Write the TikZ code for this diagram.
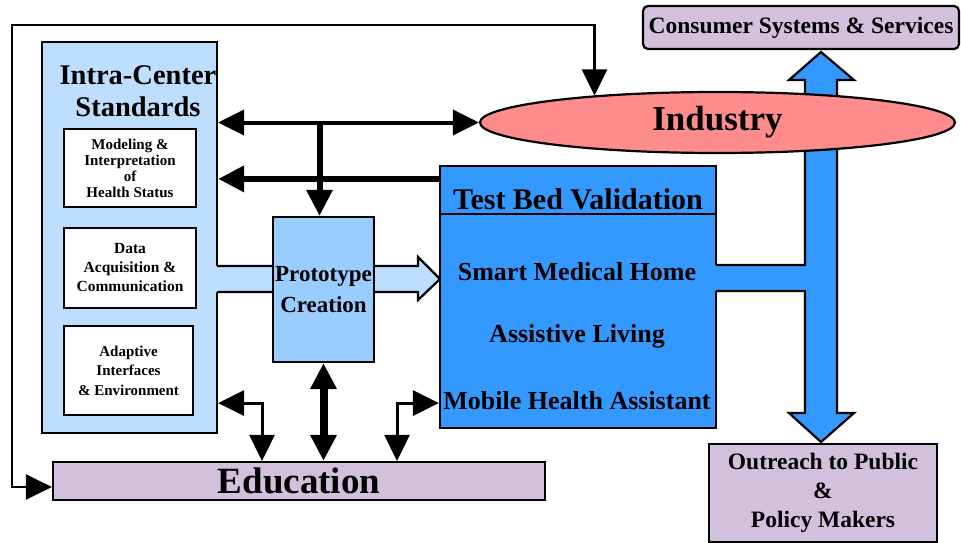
\documentclass[tikz,border=0pt]{standalone}
\usepackage{fontspec}
\setmainfont{Liberation Serif}
\usepackage{xcolor}
\usepackage{tikz}
\usetikzlibrary{shapes.geometric, arrows.meta, positioning}
\definecolor{stdblue}{RGB}{190, 222, 255}
\definecolor{protoblue}{RGB}{153, 204, 255}
\definecolor{bedblue}{RGB}{51, 153, 255}
\definecolor{indpink}{RGB}{255, 140, 140}
\definecolor{lavender}{RGB}{210, 192, 220}
\newcommand{\fsz}[2]{\fontsize{#1}{#2}\selectfont\bfseries}

\begin{document}
\begin{tikzpicture}[x=1pt, y=-1pt,
    outline/.style={draw=black, line width=2.2pt},
    panel/.style={outline, rectangle, inner sep=0pt, align=center},
    subbox/.style={panel, fill=white, minimum width=132pt},
    bigtip/.style={>={Triangle[length=26pt, width=25pt]}}]
\useasboundingbox (0,0) rectangle (961,543);

% Intra-Center standards panel
\node[panel, fill=stdblue, minimum width=175pt, minimum height=391pt] (icstd) at (129.5,237.5) {};

% Wide arrow into the test bed
\fill[stdblue] (214,266) -- (418,266) -- (418,257) -- (440,279) -- (418,300) -- (418,292) -- (214,292) -- cycle;
\draw[outline] (217,266) -- (418,266) -- (418,257) -- (440,279) -- (418,300) -- (418,292) -- (217,292);

\node[subbox, minimum height=78pt, font=\fsz{15}{16}] (model) at (130,168)
    {Modeling \&\\Interpretation\\of\\Health Status};
\node[subbox, minimum height=80pt, font=\fsz{15.5}{19}] (dataacq) at (130,268)
    {Data\\Acquisition \&\\Communication};
\node[subbox, minimum width=129pt, minimum height=89pt, font=\fsz{15}{19.5}] (adapt) at (128.5,370.5)
    {Adaptive\\Interfaces\\\& Environment};

% Prototype and test bed
\node[panel, fill=protoblue, minimum width=101pt, minimum height=145pt, font=\fsz{23}{31}] (proto)
    at (323.5,289.5) {Prototype\\Creation};
\node[panel, fill=bedblue, minimum width=276pt, minimum height=262pt] (testbed) at (578,297) {};
\draw[outline] ([yshift=-49pt]testbed.north west) -- ([yshift=-49pt]testbed.north east);

% Blue double arrow to consumers and outreach
\fill[bedblue] (714,265) -- (805,265) -- (805,80) -- (789,80) -- (821,52) -- (854,80) -- (837,80)
    -- (837,413) -- (854,413) -- (821,442) -- (789,413) -- (805,413) -- (805,291) -- (714,291) -- cycle;
\draw[outline] (716,265) -- (805,265) -- (805,80) -- (789,80) -- (821,52) -- (854,80) -- (837,80)
    -- (837,413) -- (854,413) -- (821,442) -- (789,413) -- (805,413) -- (805,291) -- (716,291);

% Partners
\node[ellipse, outline, fill=indpink, inner sep=0pt, minimum width=475pt, minimum height=61pt,
    font=\fsz{35}{40}] (industry) at (717.5,122.5) {Industry};
\node[panel, fill=lavender, rounded corners=5pt, minimum width=316pt, minimum height=43pt,
    font=\fsz{23.5}{26}] (consumer) at (801,27.5) {Consumer Systems \& Services};
\node[panel, fill=lavender, minimum width=492pt, minimum height=38pt, font=\fsz{37}{40}] (education)
    at (299,481) {Education};
\node[panel, fill=lavender, minimum width=228pt, minimum height=98pt, font=\fsz{23.5}{29}] (outreach)
    at (823,493) {Outreach to Public\\\&\\Policy Makers};

% Texts
\node[align=center, font=\fsz{28.5}{32}] (ictitle) at (138,91) {Intra-Center\\Standards};
\node[font=\fsz{30}{32}] (bedtitle) at (578,199) {Test Bed Validation};
\node[font=\fsz{26}{28}] (smart) at (577,272) {Smart Medical Home};
\node[font=\fsz{26}{28}] (assist) at (577,336) {Assistive Living};
\node[font=\fsz{26}{28}] (mobile) at (577,401) {Mobile Health Assistant};

% Black connectors
\coordinate (indtop) at ([xshift=-123pt, yshift=27pt]industry.center);
\coordinate (lpTop) at (12,25);
\coordinate (bedin) at ([yshift=-14pt]testbed.north west);
\draw[bigtip, line width=2.5pt, <->] (indtop) -- (indtop |- lpTop) -- (lpTop)
    |- ([yshift=-6pt]education.west);
\draw[bigtip, line width=4pt, <->] (icstd.east |- industry.west) -- (industry.west);
\draw[bigtip, line width=6pt, ->] ([xshift=-4pt]proto.north |- industry.west) -- ([xshift=-4pt]proto.north);
\draw[bigtip, line width=6.5pt, ->] (bedin) -- (icstd.east |- bedin);
\draw[bigtip, line width=3pt, <->] ([yshift=31pt]icstd.south east) -| ([xshift=-37pt]education.north);
\draw[bigtip, line width=8pt, <->] (proto.south) -- (proto.south |- education.north);
\draw[bigtip, line width=3pt, <->] ([yshift=26pt]testbed.south west) -| ([xshift=98pt]education.north);
\end{tikzpicture}
\end{document}
